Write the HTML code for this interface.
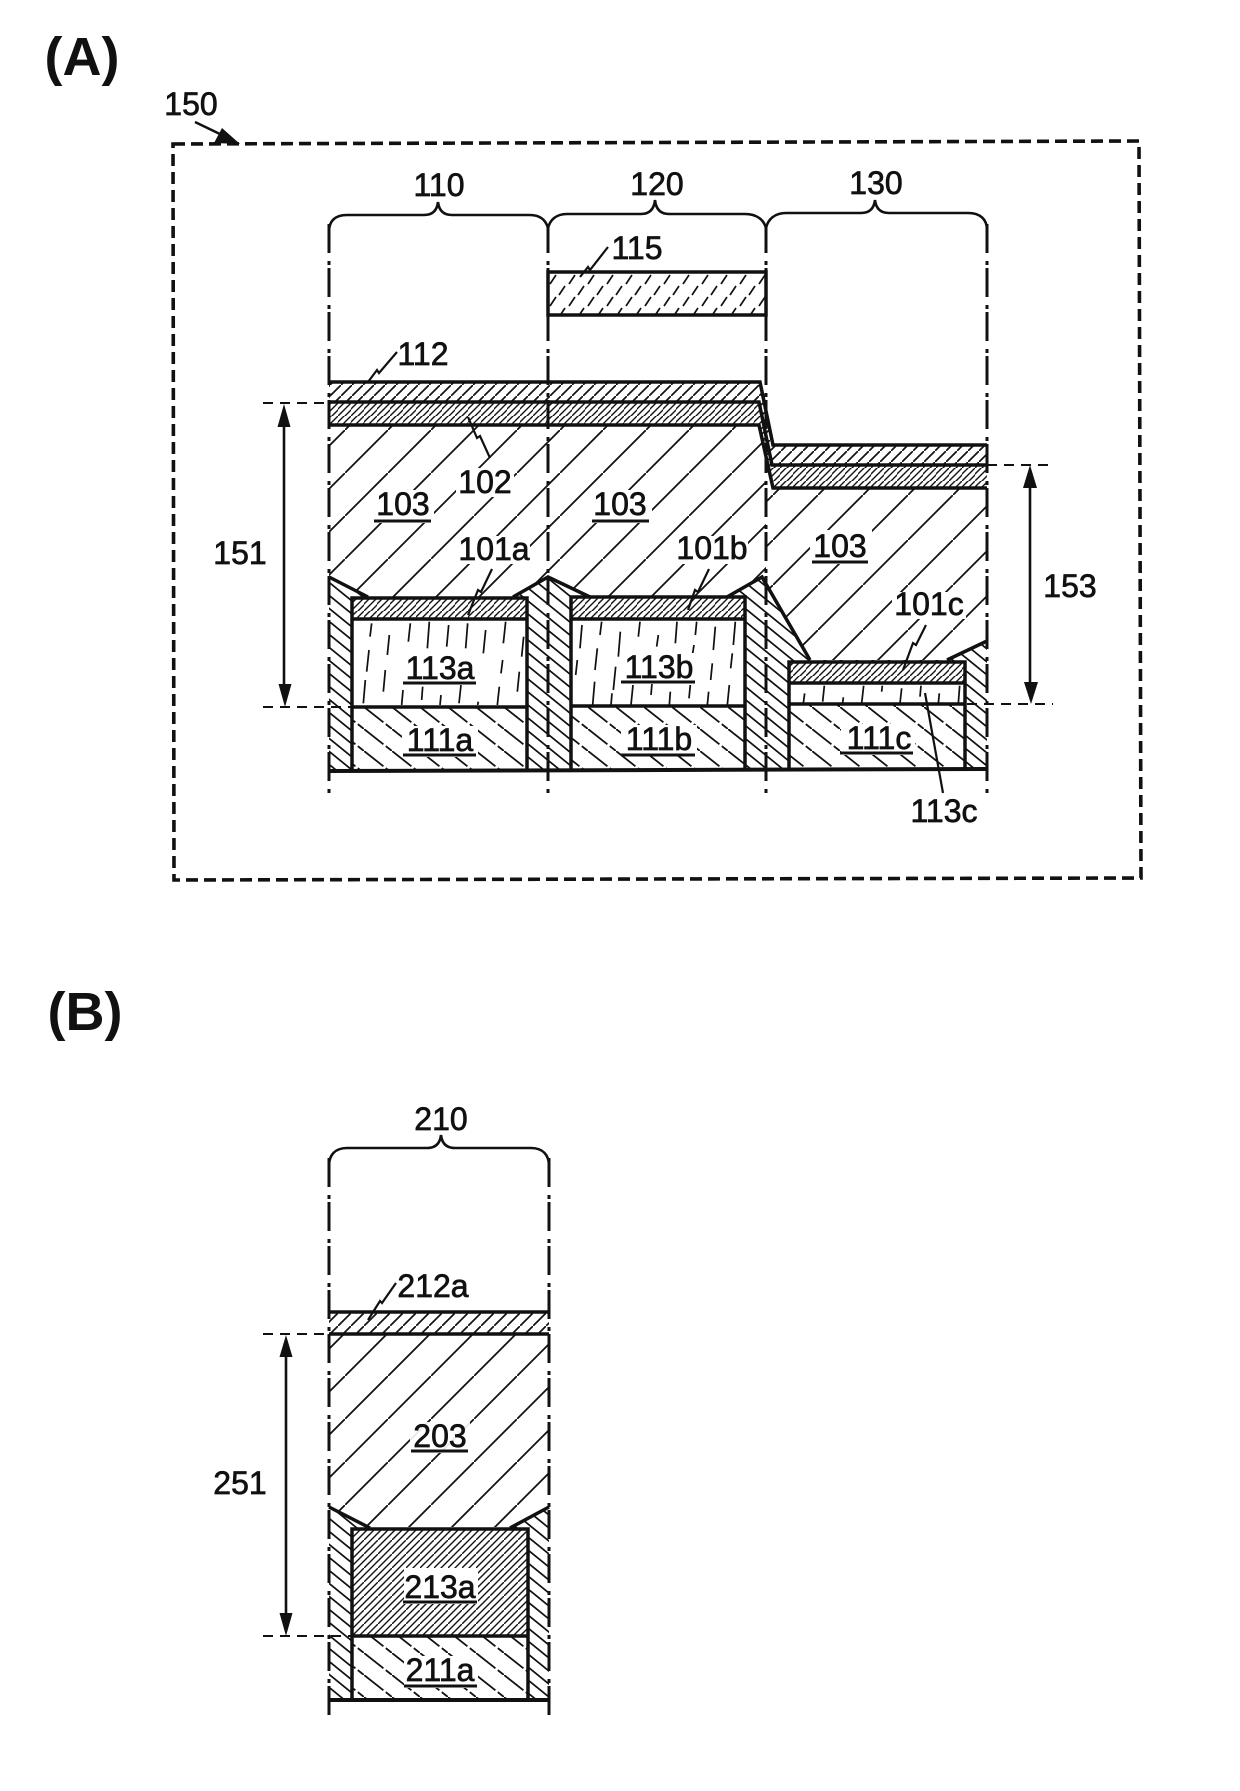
<!DOCTYPE html>
<html><head><meta charset="utf-8"><style>
html,body{margin:0;padding:0;background:#fff}
svg{display:block}
text{font-family:"Liberation Sans",sans-serif;font-size:32px;fill:#111;stroke:#111;stroke-width:.7;text-anchor:middle}
.h{font-size:54px;font-weight:bold;stroke-width:0}
.dd{fill:none;stroke:#111;stroke-width:3;stroke-dasharray:29 8 4 3}
.b{fill:none;stroke:#111;stroke-width:3.5}
.t{fill:none;stroke:#111;stroke-width:2.2}
.d{fill:none;stroke:#111;stroke-width:2;stroke-dasharray:10 7}
.u{stroke:#111;stroke-width:3}
.q{fill:none;stroke:#111;stroke-width:5.2}
</style></head><body>
<svg width="1240" height="1791" viewBox="0 0 1240 1791" xmlns="http://www.w3.org/2000/svg">
<defs>
<pattern id="p103" patternUnits="userSpaceOnUse" x="1" y="0" width="43" height="43"><path d="M-1 44L44 -1" stroke="#111" stroke-width="1.8"/></pattern>
<pattern id="p103c" patternUnits="userSpaceOnUse" x="8" y="0" width="45" height="45"><path d="M-1 46L46 -1" stroke="#111" stroke-width="1.8"/></pattern>
<pattern id="pBank" patternUnits="userSpaceOnUse" x="0" y="3" width="16" height="13"><path d="M-2 -1.625L18 14.625M-2 11.375L2 14.625M14 -1.625L18 1.625" stroke="#111" stroke-width="1.7"/></pattern>
<pattern id="p111" patternUnits="userSpaceOnUse" x="0" y="707" width="28" height="22"><path d="M-1 -.8L29 22.8" stroke="#111" stroke-width="1.8" stroke-dasharray="26 3"/></pattern>
<pattern id="p112" patternUnits="userSpaceOnUse" x="0" y="0" width="11" height="11"><path d="M-1 12L12 -1" stroke="#111" stroke-width="1.7"/></pattern>
<pattern id="p212" patternUnits="userSpaceOnUse" x="0" y="0" width="13" height="13"><path d="M-1 14L14 -1" stroke="#111" stroke-width="1.7"/></pattern>
<pattern id="p102" patternUnits="userSpaceOnUse" x="0" y="0" width="13" height="13"><path d="M-1 14L14 -1M-1 7L7 -1M6 14L14 6" stroke="#111" stroke-width="1.4"/></pattern>
<pattern id="p213" patternUnits="userSpaceOnUse" x="0" y="0" width="14" height="14"><path d="M-1 15L15 -1M-1 8L8 -1M6 15L15 6" stroke="#111" stroke-width="1.4"/></pattern>
<pattern id="p115" patternUnits="userSpaceOnUse" x="548" y="274" width="19" height="22"><path d="M2 10L8 1M11 21L17 12" stroke="#111" stroke-width="1.7"/></pattern>
</defs>
<rect width="1240" height="1791" fill="#fff"/>

<!-- Panel labels -->
<text class="h" x="82" y="75">(A)</text>
<text class="h" x="85" y="1030">(B)</text>

<!-- 150 frame -->
<path d="M173 144L1139 141L1141 878L174 880Z" fill="none" stroke="#111" stroke-width="3.6" stroke-dasharray="12 6"/>
<text x="191" y="115">150</text>
<path d="M195 122L222 135" stroke="#111" stroke-width="2.5" fill="none"/>
<path d="M240 144L214 143L222 128Z" fill="#111"/>

<!-- Panel A: 115 -->
<rect x="548" y="272" width="218" height="43" fill="url(#p115)" stroke="#111" stroke-width="3.5"/>

<!-- 103 -->
<path d="M329 425H760L766 456V577L727 597H590L548 577L513 597H368L329 577Z" fill="url(#p103)"/>
<path d="M766 456L772 488H987V641L947 660H810L766 584Z" fill="url(#p103c)"/>

<!-- layers 112/102 -->
<path d="M329 382H760L772 445H987V465H772L759 402H329Z" fill="url(#p112)"/>
<path d="M329 402H759L772 465H987V488H773L759 425H329Z" fill="url(#p102)"/>
<path class="b" d="M329 382H760L773 445H987"/>
<path class="b" d="M329 402H759L772 465H987"/>
<path class="b" d="M329 425H759L773 488H987"/>

<!-- bank -->
<path d="M329 577L368 597H513L548 577L590 597H727L762 577L810 660H947L987 641V769L329 771Z" fill="url(#pBank)"/>
<path class="b" d="M329 577L368 597"/>
<path class="b" d="M513 597L548 577L590 597"/>
<path class="b" d="M727 597L762 577L810 660"/>
<path class="b" d="M947 660L987 641"/>

<!-- box a -->
<rect x="352" y="598" width="175" height="173" fill="#fff"/>
<rect x="352" y="598" width="175" height="21" fill="url(#p102)"/>
<rect x="352" y="707" width="175" height="64" fill="url(#p111)"/>
<g transform="translate(300 520) scale(.33333)"><path class="q" d="M210 350L215 310M262 405L268 345M325 365L331 310M382 385L388 305M440 380L446 315M497 385L503 310M550 400L557 330M610 370L617 305M665 410L671 350M200 455L207 390M190 550L196 480M250 515L256 450M305 555L309 510M365 540L368 500M420 555L423 525M477 550L483 495M533 555L535 545M592 555L598 500M652 515L658 455M603 460L608 420"/></g>
<path class="b" d="M352 771V598H527V771"/><path class="b" d="M352 619H527"/><path class="b" d="M352 707H527"/>
<!-- box b -->
<rect x="571" y="597" width="174" height="173" fill="#fff"/>
<rect x="571" y="597" width="174" height="22" fill="url(#p102)"/>
<rect x="571" y="706" width="174" height="64" fill="url(#p111)"/>
<g transform="translate(300 520) scale(.33333)"><path class="q" d="M840 385L846 315M900 345L905 305M955 410L961 335M1015 350L1020 305M1070 380L1075 345M1126 370L1131 305M1186 345L1190 305M1240 390L1246 320M1300 375L1306 305M827 465L832 420M885 450L892 385M940 510L947 440M878 555L884 485M933 555L936 520M993 555L999 495M1053 525L1056 490M1108 555L1111 515M1167 535L1171 495M1222 555L1226 515M1282 555L1288 495M1292 445L1297 400M1232 480L1237 430M1178 400L1182 375"/></g>
<path class="b" d="M571 770V597H745V770"/><path class="b" d="M571 619H745"/><path class="b" d="M571 706H745"/>
<!-- box c -->
<rect x="789" y="662" width="176" height="107" fill="#fff"/>
<rect x="789" y="662" width="176" height="21" fill="url(#p102)"/>
<rect x="789" y="704" width="176" height="65" fill="url(#p111)"/>
<g transform="translate(700 520) scale(.33333)"><path class="q" d="M310 550L314 520M368 545L373 497M428 550L430 532M485 550L491 497M545 515L547 497M600 550L605 505M660 530L663 497M715 550L718 520M775 550L779 497"/></g>
<path class="b" d="M789 769V662H965V769"/><path class="b" d="M789 683H965"/><path class="b" d="M789 704H965"/>
<path d="M329 771L987 769" stroke="#111" stroke-width="4" fill="none"/>

<!-- verticals -->
<path class="dd" d="M329 224V795"/>
<path class="dd" d="M548 224V795"/>
<path class="dd" d="M766 224V795"/>
<path class="dd" d="M987 224V795"/>

<!-- braces -->
<path class="t" style="stroke-width:2.6" d="M329 232C329 221 335 215 347 215H424C432 215 437 211 438 202C439 211 444 215 452 215H530C541 215 546 221 548 228"/>
<path class="t" style="stroke-width:2.6" d="M548 228C550 220 556 214 567 214H641C649 214 654 210 655 200C656 210 661 214 669 214H745C757 214 764 220 766 228"/>
<path class="t" style="stroke-width:2.6" d="M766 228C768 219 775 213 786 213H861C869 213 874 209 875 200C876 209 881 213 889 213H968C980 213 987 219 987 230"/>

<!-- dimension A -->
<path class="d" d="M263 403H329"/>
<path class="d" d="M263 707H352"/>
<path d="M284 420V690" stroke="#111" stroke-width="2.6" fill="none"/>
<path d="M284 404L290.5 427H277.5Z" fill="#111"/>
<path d="M285 707L291.5 684H278.5Z" fill="#111"/>
<path class="d" d="M987 465H1053"/>
<path class="d" d="M967 704H1053"/>
<path d="M1030 480V690" stroke="#111" stroke-width="2.6" fill="none"/>
<path d="M1030 465L1037 488H1023Z" fill="#111"/>
<path d="M1031 704L1038 682H1024Z" fill="#111"/>

<!-- leaders A -->
<path class="t" d="M368 382L377 370L379 373L397 352"/>
<path class="t" d="M580 277L588 267L590 270L608 247"/>
<path class="t" d="M468 417L477 438L480 436L490 458"/>
<path class="t" d="M492 569L481 592L478 590L468 615"/>
<path class="t" d="M709 569L698 592L695 590L688 610"/>
<path class="t" d="M926 625L916 645L913 643L903 670"/>
<path class="t" d="M925 693L943 793"/>

<!-- white text clear -->
<rect x="372" y="490" width="62" height="33" fill="#fff"/>
<rect x="590" y="490" width="62" height="33" fill="#fff"/>
<rect x="810" y="530" width="62" height="34" fill="#fff"/>
<rect x="456" y="468" width="58" height="29" fill="#fff"/>
<rect x="458" y="536" width="72" height="28" fill="#fff"/>
<rect x="676" y="536" width="72" height="28" fill="#fff"/>
<rect x="892" y="592" width="74" height="27" fill="#fff"/>
<rect x="402" y="654" width="76" height="31" fill="#fff"/>
<rect x="402" y="726" width="76" height="31" fill="#fff"/>
<rect x="621" y="653" width="76" height="31" fill="#fff"/>
<rect x="621" y="725" width="76" height="31" fill="#fff"/>
<rect x="841" y="724" width="74" height="31" fill="#fff"/>

<!-- labels A -->
<text x="439" y="196">110</text>
<text x="657" y="195">120</text>
<text x="876" y="194">130</text>
<text x="637" y="259">115</text>
<text x="423" y="365">112</text>
<text x="485" y="493">102</text>
<text x="403" y="515">103</text><path class="u" d="M374 521H431"/>
<text x="620" y="515">103</text><path class="u" d="M592 521H649"/>
<text x="840" y="557">103</text><path class="u" d="M812 562H868"/>
<text x="494" y="560">101a</text>
<text x="712" y="559">101b</text>
<text x="929" y="615">101c</text>
<text x="440" y="679">113a</text><path class="u" d="M403 683H476"/>
<text x="440" y="751">111a</text><path class="u" d="M403 755H476"/>
<text x="659" y="678">113b</text><path class="u" d="M621 682H695"/>
<text x="659" y="750">111b</text><path class="u" d="M621 755H695"/>
<text x="879" y="749">111c</text><path class="u" d="M840 753H913"/>
<text x="944" y="822">113c</text>
<text x="240" y="564">151</text>
<text x="1070" y="597">153</text>

<!-- Panel B -->
<path d="M329 1334H549V1507L510 1527H370L329 1507Z" fill="url(#p103)"/>
<rect x="329" y="1312" width="220" height="22" fill="url(#p212)"/>
<path class="b" d="M329 1312H549"/><path class="b" d="M329 1334H549"/>
<path d="M329 1507L370 1528H510L549 1507V1700H329Z" fill="url(#pBank)"/>
<path class="b" d="M329 1507L370 1528"/><path class="b" d="M510 1528L549 1507"/>
<rect x="352" y="1529" width="176" height="171" fill="#fff"/>
<rect x="352" y="1529" width="176" height="107" fill="url(#p213)"/>
<rect x="352" y="1636" width="176" height="64" fill="url(#p111)"/>
<path class="b" d="M352 1700V1529H528V1700"/><path class="b" d="M352 1636H528"/>
<path d="M329 1700H549" stroke="#111" stroke-width="4" fill="none"/>
<path class="dd" d="M329 1158V1723"/>
<path class="dd" d="M549 1158V1723"/>
<path class="t" style="stroke-width:2.6" d="M329 1166C329 1155 335 1148 347 1148H427C435 1148 440 1144 441 1135C442 1144 447 1148 455 1148H531C543 1148 549 1155 549 1166"/>
<path class="d" d="M263 1334H329"/>
<path class="d" d="M263 1636H352"/>
<path d="M286 1350V1620" stroke="#111" stroke-width="2.6" fill="none"/>
<path d="M286 1335L292.5 1357H279.5Z" fill="#111"/>
<path d="M286 1636L292.5 1613H279.5Z" fill="#111"/>
<path class="t" d="M396 1283L382 1303L380 1301L368 1320"/>
<rect x="410" y="1422" width="60" height="31" fill="#fff" opacity=".9"/>
<rect x="404" y="1568" width="74" height="36" fill="#fff"/>
<rect x="404" y="1656" width="74" height="32" fill="#fff"/>
<text x="441" y="1130">210</text>
<text x="433" y="1297">212a</text>
<text x="440" y="1447">203</text><path class="u" d="M411 1451H468"/>
<text x="240" y="1494">251</text>
<text x="440" y="1598">213a</text><path class="u" d="M403 1602H477"/>
<text x="440" y="1681">211a</text><path class="u" d="M404 1686H477"/>
</svg>
</body></html>
